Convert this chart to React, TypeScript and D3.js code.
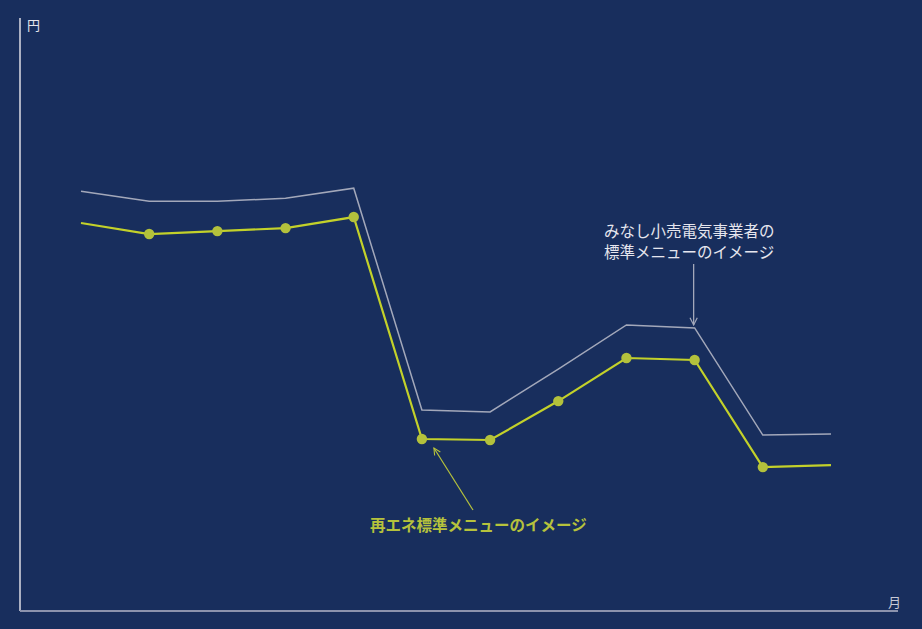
import * as d3 from "d3";
import { useEffect, useRef } from "react";

// 12 months along the x axis (no tick labels in the original)
const months = ["1", "2", "3", "4", "5", "6", "7", "8", "9", "10", "11", "12"];

// みなし小売電気事業者の標準メニュー (gray line), 円
const standardMenu = [
  21.24, 20.73, 20.73, 20.88, 21.39, 10.17, 10.07, 12.24, 14.47, 14.32, 8.9, 8.95,
];

// 再エネ標準メニュー (yellow-green line), 円
const renewableMenu = [
  19.63, 19.07, 19.22, 19.37, 19.93, 8.7, 8.65, 10.62, 12.8, 12.7, 7.28, 7.38,
];

// months that carry a dot on the renewable line
const dotted = [false, true, true, true, true, true, true, true, true, true, true, false];

const yUnit = "円";
const xUnit = "月";
const grayNote = ["みなし小売電気事業者の", "標準メニューのイメージ"];
const greenNote = "再エネ標準メニューのイメージ";

export default function App() {
  const svgRef = useRef<SVGSVGElement>(null);

  useEffect(() => {
    if (!svgRef.current) return;
    const svg = d3.select(svgRef.current);
    svg.selectAll("*").remove();

    const W = 922;
    const H = 629;
    const axisX = 20;
    const axisBottom = 611;
    const axisTop = 18;

    svg.append("rect").attr("width", W).attr("height", H).attr("fill", "#182e5d");

    const x = d3.scalePoint<string>().domain(months).range([81, 831]);
    const y = d3.scaleLinear().domain([0, 30]).range([axisBottom, axisBottom - 593]);

    const defs = svg.append("defs");
    const marker = (id: string, color: string) =>
      defs
        .append("marker")
        .attr("id", id)
        .attr("viewBox", "0 0 10 10")
        .attr("refX", 9)
        .attr("refY", 5)
        .attr("markerWidth", 7)
        .attr("markerHeight", 7)
        .attr("orient", "auto")
        .append("path")
        .attr("d", "M1,1 L9,5 L1,9")
        .attr("fill", "none")
        .attr("stroke", color)
        .attr("stroke-width", 1.3);
    marker("arrow-gray", "#a3a8ba");
    marker("arrow-green", "#b6c23c");

    // axes
    svg
      .append("line")
      .attr("x1", axisX)
      .attr("x2", axisX)
      .attr("y1", axisTop)
      .attr("y2", axisBottom)
      .attr("stroke", "#dcdce4")
      .attr("stroke-width", 1.5);
    svg
      .append("line")
      .attr("x1", axisX)
      .attr("x2", 898)
      .attr("y1", axisBottom)
      .attr("y2", axisBottom)
      .attr("stroke", "#8c93ad")
      .attr("stroke-width", 2);

    const fontFamily = "'Noto Sans CJK JP', 'Noto Sans', sans-serif";
    svg
      .append("text")
      .attr("x", 27)
      .attr("y", 30)
      .attr("fill", "#e4e4ec")
      .style("font-family", fontFamily)
      .style("font-size", "13px")
      .text(yUnit);
    svg
      .append("text")
      .attr("x", 888)
      .attr("y", 607)
      .attr("fill", "#c8cad6")
      .style("font-family", fontFamily)
      .style("font-size", "13px")
      .text(xUnit);

    const line = d3
      .line<number>()
      .x((_, i) => x(months[i]) as number)
      .y((d) => y(d));

    svg
      .append("path")
      .datum(standardMenu)
      .attr("d", line)
      .attr("fill", "none")
      .attr("stroke", "#a3a8ba")
      .attr("stroke-width", 1.5);

    svg
      .append("path")
      .datum(renewableMenu)
      .attr("d", line)
      .attr("fill", "none")
      .attr("stroke", "#c3d12a")
      .attr("stroke-width", 2.2);

    svg
      .selectAll("circle.dot")
      .data(renewableMenu.map((v, i) => ({ v, i })).filter((d) => dotted[d.i]))
      .enter()
      .append("circle")
      .attr("class", "dot")
      .attr("cx", (d) => x(months[d.i]) as number)
      .attr("cy", (d) => y(d.v))
      .attr("r", 5.2)
      .attr("fill", "#b3c13c");

    // gray annotation
    const gx = x(months[9]) as number;
    svg
      .append("line")
      .attr("x1", gx - 1)
      .attr("x2", gx - 1)
      .attr("y1", 264)
      .attr("y2", y(standardMenu[9]) - 3)
      .attr("stroke", "#a3a8ba")
      .attr("stroke-width", 1.3)
      .attr("marker-end", "url(#arrow-gray)");
    svg
      .append("text")
      .attr("fill", "#e6e6ee")
      .style("font-family", fontFamily)
      .style("font-size", "15.5px")
      .selectAll("tspan")
      .data(grayNote)
      .enter()
      .append("tspan")
      .attr("x", 604)
      .attr("y", (_, i) => 237 + i * 21)
      .text((d) => d);

    // green annotation
    const px = x(months[5]) as number;
    svg
      .append("line")
      .attr("x1", 473)
      .attr("y1", 510)
      .attr("x2", px + 12)
      .attr("y2", y(renewableMenu[5]) + 9)
      .attr("stroke", "#b6c23c")
      .attr("stroke-width", 1.2)
      .attr("marker-end", "url(#arrow-green)");
    svg
      .append("text")
      .attr("x", 370)
      .attr("y", 531)
      .attr("fill", "#b6c23c")
      .style("font-family", fontFamily)
      .style("font-size", "15.5px")
      .style("font-weight", "bold")
      .text(greenNote);
  }, []);

  return (
    <svg
      ref={svgRef}
      width={922}
      height={629}
      style={{ position: "absolute", left: 0, top: 0, display: "block" }}
    />
  );
}
